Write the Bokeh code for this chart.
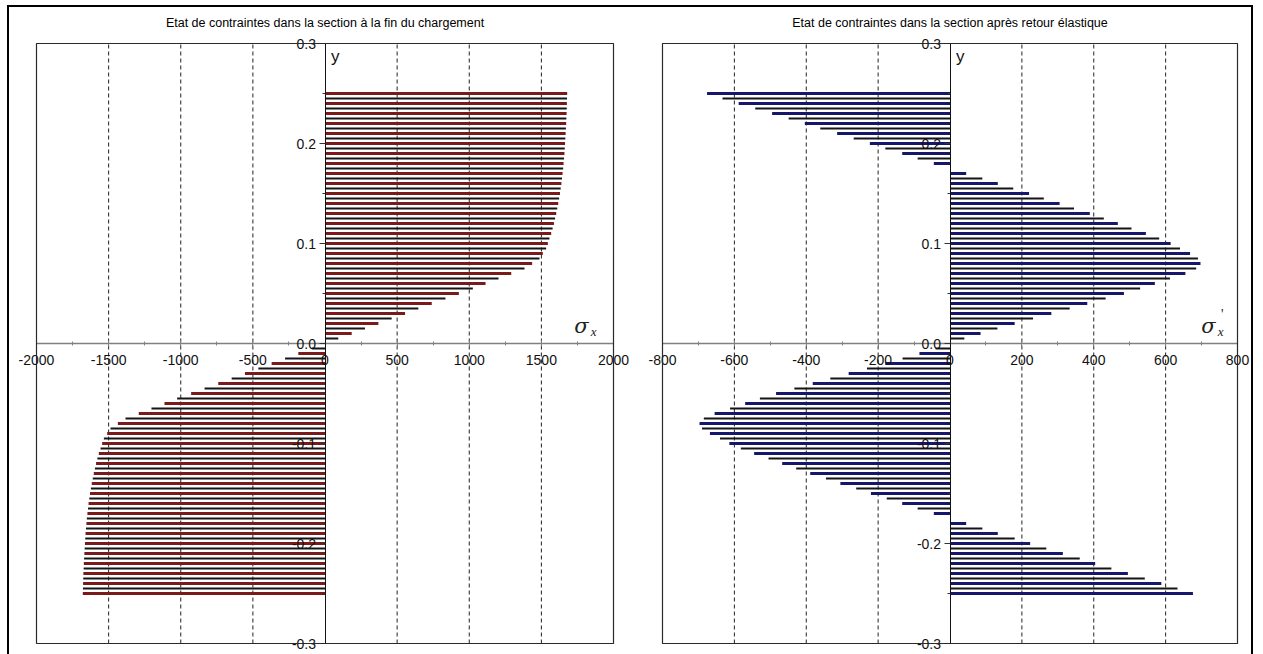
import numpy as np
from bokeh.plotting import figure
from bokeh.models import (LinearAxis, FixedTicker, Label, Range1d, BoxAnnotation,
                          PrintfTickFormatter)
from bokeh.layouts import row
from bokeh.embed import file_html
from bokeh.resources import INLINE

# ---------------- data ----------------
# y positions of the fibres (section height), step 0.005
y_upper = [round(0.005 * i, 3) for i in range(0, 51)]          # 0.0 .. 0.25
y_lower = [round(-0.25 + 0.005 * i, 3) for i in range(0, 50)]  # -0.25 .. -0.005

# stress at end of loading (sigma_x)
sigma_upper = [0, 92, 185, 277, 370, 462, 555, 647, 740, 835, 928, 1025, 1113, 1203,
               1291, 1383, 1436, 1487, 1510, 1533, 1545, 1556, 1568, 1578, 1587, 1595,
               1603, 1610, 1617, 1623, 1629, 1634, 1639, 1643, 1647, 1651, 1654, 1657,
               1660, 1662, 1664, 1666, 1668, 1670, 1672, 1673, 1675, 1676, 1677, 1678, 1679]
sigma_lower = [-1679, -1678, -1677, -1676, -1675, -1673, -1672, -1670, -1668, -1666,
               -1664, -1662, -1660, -1657, -1654, -1651, -1647, -1643, -1639, -1634,
               -1629, -1623, -1617, -1610, -1603, -1595, -1587, -1578, -1568, -1556,
               -1545, -1533, -1510, -1487, -1436, -1383, -1291, -1203, -1113, -1025,
               -928, -835, -740, -647, -555, -462, -370, -277, -185, -92]

# residual stress after elastic unloading (sigma'_x)
resid_upper = [0, 40, 85, 132, 180, 231, 282, 333, 382, 433, 484, 529, 570, 612, 655,
               685, 697, 690, 668, 640, 614, 582, 545, 505, 467, 428, 389, 345, 305, 261,
               220, 176, 133, 90, 45, 0, -45, -90, -133, -180, -223, -268, -314, -361,
               -404, -449, -495, -542, -588, -633, -676]
resid_lower = [676, 633, 588, 542, 495, 449, 404, 361, 314, 268, 223, 180, 133, 90, 45,
               0, -45, -90, -133, -176, -220, -261, -305, -345, -389, -428, -467, -505,
               -545, -582, -614, -640, -668, -690, -697, -685, -655, -612, -570, -529,
               -484, -433, -382, -333, -282, -231, -180, -132, -85, -40]

left_xticks = [-2000, -1500, -1000, -500, 0, 500, 1000, 1500, 2000]
left_xminor = [-1750, -1250, -750, -250, 250, 750, 1250, 1750]
right_xticks = [-800, -600, -400, -200, 0, 200, 400, 600, 800]
right_xminor = [-700, -500, -300, -100, 100, 300, 500, 700]
yticks = [-0.3, -0.2, -0.1, 0.0, 0.1, 0.2, 0.3]
yminor = [-0.25, -0.15, -0.05, 0.05, 0.15, 0.25]

titles = ["Etat de contraintes dans la section à la fin du chargement",
          "Etat de contraintes dans la section après retour élastique"]

FONT = "Liberation Sans"
H = 647
TXT = "#111111"
BOX_TOP, BOX_BOTTOM = 36, 636   # pixel rows of the plot box inside each canvas


def panel(title, xr, xticks, xminor, vals_up, vals_lo, color, width, box_l, box_r,
          sig_off, sub_prime):
    # expand the ranges so that the data box [xr] x [-0.3, 0.3] lands on the wanted pixels
    sx = (xr[1] - xr[0]) / (box_r - box_l)
    x0 = xr[0] - box_l * sx
    x1 = xr[1] + (width - box_r) * sx
    sy = 0.6 / (BOX_BOTTOM - BOX_TOP)
    y1 = 0.3 + BOX_TOP * sy
    y0 = -0.3 - (H - BOX_BOTTOM) * sy

    p = figure(width=width, height=H, x_range=Range1d(x0, x1), y_range=Range1d(y0, y1),
               output_backend="svg", toolbar_location=None,
               x_axis_location=None, y_axis_location=None,
               min_border=0, min_border_left=0, min_border_right=0,
               min_border_top=0, min_border_bottom=0)
    for g0 in p.xgrid + p.ygrid:
        g0.visible = False
    p.outline_line_color = None
    p.background_fill_color = "white"
    p.border_fill_color = "white"

    # dashed vertical grid lines at major ticks
    gt = [t for t in xticks if t not in (0, xticks[0], xticks[-1])]
    p.segment(x0=gt, y0=[-0.3] * len(gt), x1=gt, y1=[0.3] * len(gt),
              line_color="#222222", line_dash="4 3", line_width=1)

    ys = np.array(y_lower + y_upper)
    vs = np.array(list(vals_lo) + list(vals_up))
    idx = np.arange(len(ys))
    a = idx % 2 == 0
    b = ~a
    p.hbar(y=ys[a], left=0, right=vs[a], height=0.003, color=color, line_width=0)
    p.hbar(y=ys[b], left=0, right=vs[b], height=0.002, color="#151515", line_width=0)

    # plot box
    p.add_layout(BoxAnnotation(left=xr[0], right=xr[1], bottom=-0.3, top=0.3,
                               fill_alpha=0, line_color="#2a2a2a", line_alpha=1,
                               line_width=1.2))

    xa = LinearAxis(fixed_location=0, ticker=FixedTicker(ticks=xticks, minor_ticks=xminor),
                    formatter=PrintfTickFormatter(format="%d"), bounds=xr)
    xa.axis_line_color = "#808080"
    xa.axis_line_width = 1.5
    xa.major_tick_line_color = "#808080"
    xa.minor_tick_line_color = "#808080"
    xa.major_tick_in = 3
    xa.major_tick_out = 3
    xa.minor_tick_in = 2
    xa.minor_tick_out = 2
    xa.major_label_text_font = FONT
    xa.major_label_text_font_size = "14px"
    xa.major_label_text_color = TXT
    xa.major_label_standoff = 8
    p.add_layout(xa, "below")

    ya = LinearAxis(fixed_location=0, ticker=FixedTicker(ticks=yticks, minor_ticks=yminor),
                    formatter=PrintfTickFormatter(format="%.1f"), bounds=(-0.3, 0.3))
    ya.axis_line_color = "#111111"
    ya.axis_line_width = 1
    ya.major_tick_line_color = "#333333"
    ya.minor_tick_line_color = "#333333"
    ya.major_tick_in = 0
    ya.major_tick_out = 6
    ya.minor_tick_in = 0
    ya.minor_tick_out = 3
    ya.major_label_text_font = FONT
    ya.major_label_text_font_size = "14px"
    ya.major_label_text_color = TXT
    ya.major_label_standoff = 3
    p.add_layout(ya, "left")

    # title
    p.add_layout(Label(x=(xr[0] + xr[1]) / 2, y=0.3, y_offset=21, text=title,
                       text_align="center", text_baseline="middle", text_font=FONT,
                       text_font_size="12.5px", text_color="#000000"))

    # axis names
    p.add_layout(Label(x=0, y=0.3, x_offset=6, y_offset=-3, text="y", text_baseline="top",
                       text_font=FONT, text_font_size="17px", text_color=TXT))
    xmax = xr[1]
    p.add_layout(Label(x=xmax, y=0, x_offset=-sig_off, y_offset=6,
                       text="σ", text_align="right", text_baseline="bottom",
                       text_font="DejaVu Serif", text_font_style="italic",
                       text_font_size="21px", text_color="#222222"))
    p.add_layout(Label(x=xmax, y=0, x_offset=-sig_off + 8, y_offset=5, text="x",
                       text_align="right", text_baseline="bottom", text_font="Liberation Serif",
                       text_font_style="italic", text_font_size="13px", text_color="#222222"))
    if sub_prime:
        p.add_layout(Label(x=xmax, y=0, x_offset=-sig_off + 8, y_offset=22, text="'",
                           text_align="right", text_baseline="bottom",
                           text_font="Liberation Serif", text_font_size="14px",
                           text_color="#222222"))
    return p


p1 = panel(titles[0], (-2000, 2000), left_xticks, left_xminor, sigma_upper, sigma_lower,
           "#7a1a1a", 628, 27, 604, 25, False)
p2 = panel(titles[1], (-800, 800), right_xticks, right_xminor, resid_upper, resid_lower,
           "#16166b", 614, 25, 600, 22, True)

layout = row(p1, p2, styles={"border-top": "2px solid black", "border-left": "2px solid black",
                             "border-right": "2px solid black", "margin-left": "7px",
                             "margin-top": "5px"})

open("out.html", "w").write(file_html(layout, INLINE))
